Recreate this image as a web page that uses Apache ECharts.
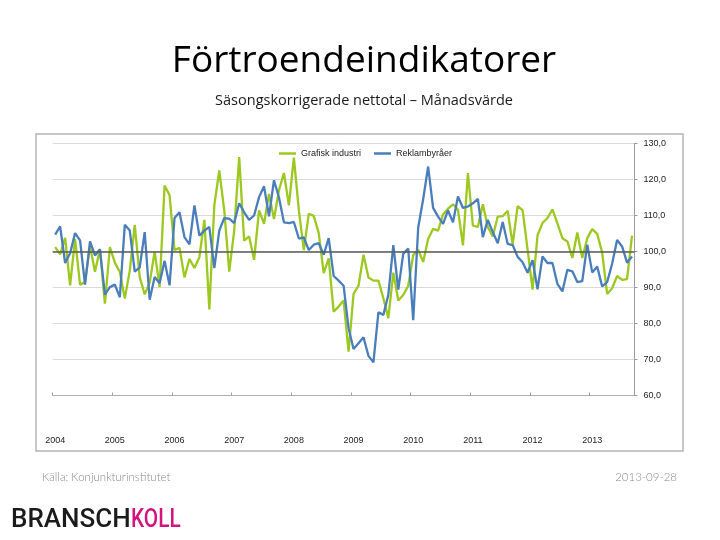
<!DOCTYPE html>
<html>
<head>
<meta charset="utf-8">
<script src="https://cdn.jsdelivr.net/npm/echarts@6/dist/echarts.min.js"></script>
<style>
html,body{margin:0;padding:0;background:#fff;}
#chart{width:720px;height:540px;}
</style>
</head>
<body>
<div id="chart"></div>
<script>
// ---- Data ----
const years = ['2004','2005','2006','2007','2008','2009','2010','2011','2012','2013'];
const monthCodes = ['01','02','03','04','05','06','07','08','09','10','11','12'];
const yTicks = [60, 70, 80, 90, 100, 110, 120, 130];

const seriesNames = ['Grafisk industri', 'Reklambyråer'];

const grafiskIndustri = [
  101.2, 99.2, 103.8, 90.6, 103.5, 90.8, 91.5, 101.5, 94.4, 100.6, 85.5, 101.2,
  96.9, 94.3, 86.9, 94.7, 107.4, 92.9, 88.1, 91.3, 100.0, 90.1, 118.3, 115.6,
  100.4, 101.0, 92.8, 97.9, 95.4, 98.4, 108.8, 83.9, 112.8, 122.5, 111.4, 94.4,
  105.8, 126.2, 103.0, 104.2, 97.7, 111.4, 107.7, 116.0, 109.0, 117.0, 121.8, 112.8,
  126.1, 111.5, 100.4, 110.5, 109.9, 105.1, 94.0, 98.1, 83.3, 84.7, 86.4, 72.2,
  88.2, 90.5, 99.1, 92.8, 91.9, 91.9, 87.0, 81.5, 94.1, 86.4, 87.9, 90.5,
  99.0, 100.5, 97.1, 103.5, 106.3, 105.8, 110.3, 111.9, 113.1, 111.6, 101.7, 121.8,
  107.2, 106.8, 113.1, 106.8, 104.2, 109.7, 109.8, 111.3, 102.0, 112.6, 111.5, 100.5,
  89.4, 104.5, 107.9, 109.3, 111.7, 107.8, 103.7, 102.8, 98.2, 105.3, 98.2, 103.7,
  106.2, 104.9, 99.7, 88.2, 89.8, 93.2, 92.1, 92.3, 104.4
];

const reklambyraer = [
  104.7, 107.0, 96.8, 99.5, 105.1, 103.1, 90.8, 102.8, 98.9, 100.6, 88.0, 90.1,
  90.8, 87.3, 107.4, 105.8, 94.4, 95.6, 105.4, 86.6, 92.9, 91.2, 97.4, 90.6,
  109.3, 110.9, 104.0, 102.0, 112.8, 104.4, 105.8, 106.8, 95.4, 105.8, 109.3, 109.1,
  107.9, 113.4, 110.9, 108.8, 110.0, 115.1, 118.1, 109.8, 119.8, 115.0, 108.1, 107.9,
  108.2, 103.6, 103.9, 100.4, 101.9, 102.3, 99.1, 103.7, 93.2, 91.9, 90.5, 78.7,
  72.9, 74.5, 76.2, 71.0, 69.2, 83.1, 82.4, 88.0, 101.8, 89.4, 99.4, 100.8,
  80.9, 106.6, 114.5, 123.6, 112.1, 109.7, 107.7, 111.4, 108.1, 115.3, 112.1, 112.5,
  113.4, 114.6, 104.0, 108.8, 105.4, 102.3, 108.2, 102.1, 101.8, 98.5, 97.0, 94.1,
  97.6, 89.5, 98.6, 96.8, 96.8, 91.0, 88.9, 94.9, 94.5, 91.5, 91.8, 101.9,
  94.2, 95.8, 90.3, 91.5, 96.6, 103.2, 101.4, 96.9, 98.6
];

// monthly categories, Jan 2004 .. Sep 2013
const categories = [];
years.forEach(y => monthCodes.forEach(m => categories.push(y + '-' + m)));
categories.length = grafiskIndustri.length;

const GREEN = '#9cc81f';
const BLUE = '#4a7ebb';

const chart = echarts.init(document.getElementById('chart'), null, {renderer: 'canvas'});

const option = {
  backgroundColor: '#ffffff',
  animation: false,
  title: [
    {
      text: 'Förtroendeindikatorer',
      left: 359, top: 38, textAlign: 'center',
      textStyle: {fontFamily: 'Open Sans', fontSize: 37, fontWeight: 'normal', color: '#000'}
    },
    {
      text: 'Säsongskorrigerade nettotal – Månadsvärde',
      left: 359, top: 88, textAlign: 'center',
      textStyle: {fontFamily: 'Open Sans', fontSize: 14.5, fontWeight: 'normal', color: '#1a1a1a'}
    }
  ],
  graphic: [
    {
      type: 'rect', silent: true, z: -1,
      shape: {x: 36, y: 134, width: 647, height: 317},
      style: {fill: '#fff', stroke: '#b5b5b5', lineWidth: 1.5}
    },
    {
      type: 'text', left: 42, top: 471,
      style: {text: 'Källa: Konjunkturinstitutet', fill: '#8a8a8a', font: '300 11.5px Lato'}
    },
    {
      type: 'text', right: 43, top: 471,
      style: {text: '2013-09-28', fill: '#8a8a8a', font: '300 11.5px Lato'}
    },
    {
      type: 'text', x: 11, y: 507,
      style: {text: 'BRANSCH', fill: '#1b1b1b', font: '500 26px Roboto'}
    },
    {
      type: 'text', x: 131, y: 507, scaleX: 0.8,
      style: {text: 'KOLL', fill: '#d3147f', font: '500 26px Roboto'}
    }
  ],
  legend: {
    data: seriesNames.map(n => ({name: n, icon: 'rect'})),
    left: 274, top: 144,
    itemWidth: 17, itemHeight: 2.5, itemGap: 13,
    textStyle: {fontFamily: 'Liberation Sans', fontSize: 9, color: '#222'}
  },
  grid: {left: 52.7, right: 85.5, top: 143.5, bottom: 144.5, containLabel: false},
  xAxis: {
    type: 'category',
    data: categories,
    boundaryGap: true,
    axisLine: {show: true, lineStyle: {color: '#b0b0b0', width: 1}},
    axisTick: {show: true, inside: true, length: 3, interval: (i) => i % 12 === 0, lineStyle: {color: '#a0a0a0'}},
    axisLabel: {
      interval: (i) => i % 12 === 0,
      formatter: (v) => v.slice(0, 4),
      margin: 41,
      fontFamily: 'Liberation Sans', fontSize: 9, color: '#222'
    },
    splitLine: {show: false}
  },
  yAxis: {
    type: 'value',
    position: 'right',
    min: yTicks[0], max: yTicks[yTicks.length - 1], interval: 10,
    axisLine: {show: true, lineStyle: {color: '#9a9a9a', width: 1}},
    axisTick: {show: true, length: 3, lineStyle: {color: '#9a9a9a'}},
    axisLabel: {
      margin: 9,
      formatter: (v) => v.toFixed(1).replace('.', ','),
      fontFamily: 'Liberation Sans', fontSize: 9, color: '#222'
    },
    splitLine: {show: true, lineStyle: {color: '#dadada', width: 1}}
  },
  series: [
    {
      name: seriesNames[0], type: 'line', data: grafiskIndustri,
      symbol: 'none', smooth: false,
      lineStyle: {color: GREEN, width: 2.3}, itemStyle: {color: GREEN},
      z: 3,
      markLine: {
        silent: true, symbol: 'none', label: {show: false},
        lineStyle: {color: '#5a5a5a', width: 1.6, type: 'solid'},
        data: [{yAxis: 100}]
      }
    },
    {
      name: seriesNames[1], type: 'line', data: reklambyraer,
      symbol: 'none', smooth: false,
      lineStyle: {color: BLUE, width: 2.3}, itemStyle: {color: BLUE},
      z: 4
    }
  ]
};
chart.setOption(option);
</script>
</body>
</html>
